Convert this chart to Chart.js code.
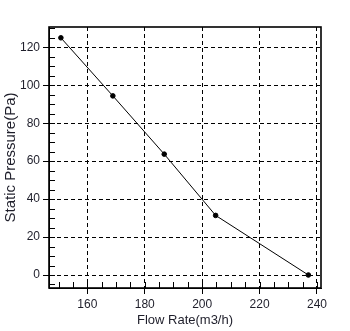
<!DOCTYPE html>
<html><head><meta charset="utf-8">
<script src="https://cdn.jsdelivr.net/npm/chart.js@4"></script>
<style>html,body{margin:0;padding:0;background:#fff}#wrap{width:350px;height:331px}</style>
</head><body><div id="wrap"><canvas id="c" width="350" height="331"></canvas></div>
<script>
const flowRate = [150.8, 168.9, 186.8, 204.7, 237.0];
const staticPressure = [125.0, 94.4, 63.7, 31.4, 0.0];
const xTickValues = [160, 180, 200, 220, 240];
const yTickValues = [0, 20, 40, 60, 80, 100, 120];
const xMinorTicks = [150,155,160,165,170,175,180,185,190,195,200,205,210,215,220,225,230,235,240];
const yMinorTicks = [-5,0,5,10,15,20,25,30,35,40,45,50,55,60,65,70,75,80,85,90,95,100,105,110,115,120,125,130];

const FONT = "'Liberation Sans', Arial, sans-serif";
const TXT = '#1e1e2a';

const boxPlugin = {
  id: 'boxAndMinor',
  afterDraw(chart) {
    const {ctx, chartArea: a, scales: {x, y}} = chart;
    ctx.save();
    ctx.strokeStyle = '#000';
    ctx.lineWidth = 1;
    ctx.setLineDash([]);
    ctx.beginPath();
    xMinorTicks.forEach(v => {
      const px = Math.round(x.getPixelForValue(v)) + 0.5;
      ctx.moveTo(px, a.bottom);
      ctx.lineTo(px, a.bottom - 6);
    });
    yMinorTicks.forEach(v => {
      const py = Math.round(y.getPixelForValue(v)) + 0.5;
      ctx.moveTo(a.left, py);
      ctx.lineTo(a.left + 6, py);
    });
    ctx.stroke();
    ctx.lineWidth = 1.6;
    ctx.strokeRect(a.left, a.top, a.right - a.left, a.bottom - a.top);
    ctx.restore();
  }
};

new Chart(document.getElementById('c'), {
  type: 'scatter',
  data: {
    datasets: [{
      data: flowRate.map((v, i) => ({x: v, y: staticPressure[i]})),
      showLine: true,
      borderColor: '#000',
      backgroundColor: '#000',
      borderWidth: 1,
      pointRadius: 2.3,
      pointHoverRadius: 2.3,
      tension: 0
    }]
  },
  options: {
    responsive: false,
    animation: false,
    devicePixelRatio: 1,
    layout: {padding: {left: 0, top: 27, right: 29, bottom: 0}},
    plugins: {legend: {display: false}, tooltip: {enabled: false}},
    scales: {
      x: {
        type: 'linear',
        min: 146.66, max: 241.4,
        afterBuildTicks: s => { s.ticks = xTickValues.map(v => ({value: v})); },
        afterFit: s => { s.height = 43; },
        grid: {color: '#000', lineWidth: 1, drawTicks: true, tickLength: 6, tickColor: '#000'},
        border: {display: true, color: '#000', width: 1, dash: [4, 3]},
        ticks: {color: TXT, font: {family: FONT, size: 12}, padding: 3, maxRotation: 0},
        title: {display: true, text: 'Flow Rate(m3/h)', color: TXT, font: {family: FONT, size: 13}, padding: {top: 0, bottom: 3}}
      },
      y: {
        type: 'linear',
        min: -6.85, max: 130.7,
        afterBuildTicks: s => { s.ticks = yTickValues.map(v => ({value: v})); },
        afterFit: s => { s.width = 49; },
        grid: {color: '#000', lineWidth: 1, drawTicks: true, tickLength: 6, tickColor: '#000'},
        border: {display: true, color: '#000', width: 1, dash: [4, 3]},
        ticks: {color: TXT, font: {family: FONT, size: 12}, padding: 3},
        title: {display: true, text: 'Static Pressure(Pa)', color: TXT, font: {family: FONT, size: 15}, padding: {top: 2, bottom: 0}}
      }
    }
  },
  plugins: [boxPlugin]
});
</script>
</body></html>
